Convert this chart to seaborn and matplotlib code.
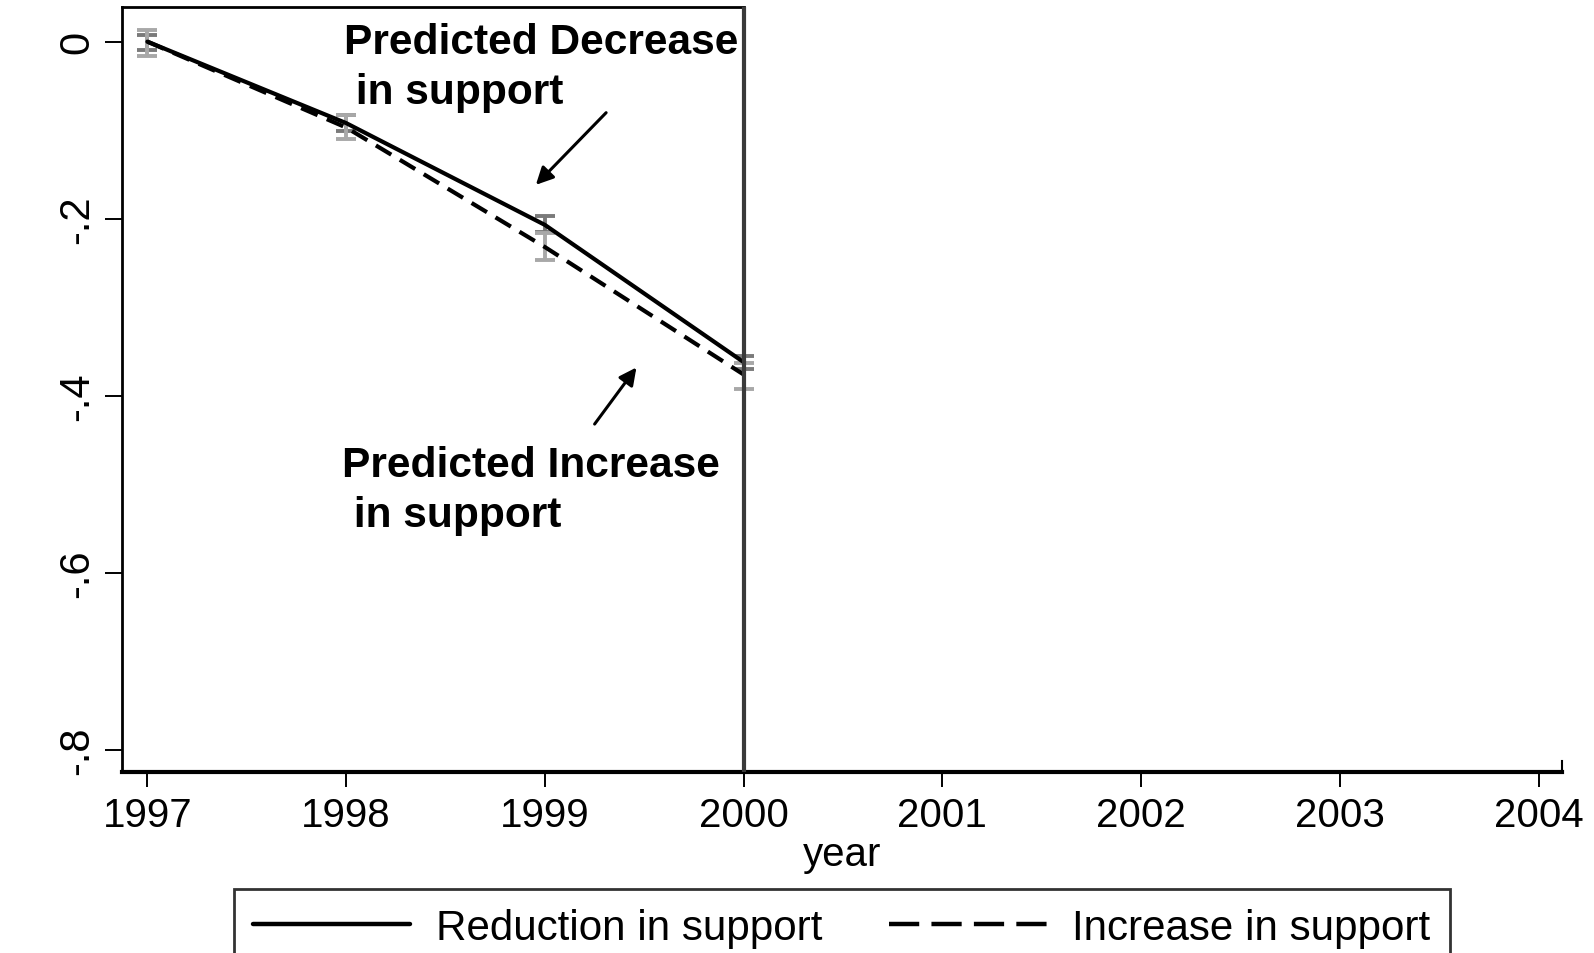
import pandas as pd
import matplotlib.pyplot as plt
import numpy as np
import seaborn as sns
from matplotlib.lines import Line2D

# values
years = [1997, 1998, 1999, 2000]
reduction = [0.0, -0.092, -0.207, -0.362]
increase = [0.0, -0.097, -0.232, -0.376]
reduction_lo = [-0.009, -0.101, -0.215, -0.370]
reduction_hi = [0.008, -0.083, -0.197, -0.355]
increase_lo = [-0.016, -0.110, -0.247, -0.392]
increase_hi = [0.013, -0.083, -0.216, -0.363]

xticks = [1997, 1998, 1999, 2000, 2001, 2002, 2003, 2004]
yticks = [0, -0.2, -0.4, -0.6, -0.8]
ytick_labels = ["0", "-.2", "-.4", "-.6", "-.8"]

df = pd.DataFrame({
    "year": years * 2,
    "value": reduction + increase,
    "group": ["Reduction in support"] * 4 + ["Increase in support"] * 4,
})

sns.set_style("white")
plt.rcParams['font.family'] = ['Liberation Sans', 'DejaVu Sans']
plt.rcParams['text.color'] = 'black'
plt.rcParams['axes.labelcolor'] = 'black'
plt.rcParams['xtick.color'] = 'black'
plt.rcParams['ytick.color'] = 'black'

fig = plt.figure(figsize=(15.94, 9.54), dpi=100)
ax = fig.add_axes([0.0765, 0.1897, 0.9037, 0.8018])

# grey confidence bars first
ax.errorbar(years, reduction, yerr=[np.array(reduction) - np.array(reduction_lo),
                                    np.array(reduction_hi) - np.array(reduction)],
            fmt='none', ecolor='#7a7a7a', elinewidth=2.8, capsize=7.5, capthick=2.8, zorder=2)
ax.errorbar(years, increase, yerr=[np.array(increase) - np.array(increase_lo),
                                   np.array(increase_hi) - np.array(increase)],
            fmt='none', ecolor='#a8a8a8', elinewidth=2.8, capsize=7.5, capthick=2.8, zorder=2)

sns.lineplot(data=df, x="year", y="value", style="group",
             dashes={"Reduction in support": "", "Increase in support": (4.3, 2.4)},
             color='black', linewidth=3, ax=ax, legend=False, zorder=3)

ax.axvline(2000, color='#3a3a3a', linewidth=3, zorder=4)

ax.set_xlim(1996.872, 2004.12)
ax.set_ylim(-0.825, 0.039)

ax.set_xticks(xticks)
ax.set_xticklabels([str(y) for y in xticks])
ax.set_yticks(yticks)
ax.set_yticklabels(ytick_labels, rotation=90, va='center')
ax.tick_params(axis='x', direction='out', length=11, width=1.4, labelsize=29, pad=6, bottom=True)
ax.tick_params(axis='y', direction='out', length=12, width=1.4, labelsize=30, pad=6, left=True)

ax.set_xlabel("year", fontsize=29, labelpad=1)
ax.set_ylabel("")

# frame: box only around left part, long bottom axis
ax.spines['left'].set_linewidth(2)
ax.spines['bottom'].set_linewidth(3)
ax.spines['top'].set_linewidth(2)
ax.spines['top'].set_bounds(1996.872, 2000)
ax.spines['right'].set_linewidth(1.5)
ax.spines['right'].set_bounds(-0.825, -0.812)
for s in ax.spines.values():
    s.set_color('black')

# annotations
ax.text(1997.987, -0.0288, "Predicted Decrease\n in support", fontsize=30.6,
        fontweight='bold', ha='left', va='center', linespacing=1.33)
ax.text(1997.977, -0.5064, "Predicted Increase\n in support", fontsize=30.6,
        fontweight='bold', ha='left', va='center', linespacing=1.33)
ax.annotate("", xy=(1998.945, -0.164), xytext=(1999.318, -0.078),
            arrowprops=dict(arrowstyle='-|>', color='black', lw=2.2, mutation_scale=26))
ax.annotate("", xy=(1999.469, -0.3655), xytext=(1999.242, -0.4345),
            arrowprops=dict(arrowstyle='-|>', color='black', lw=2.2, mutation_scale=26))

# legend
handles = [Line2D([], [], color='black', lw=3.2),
           Line2D([], [], color='black', lw=3.2, dashes=(6.8, 2.75))]
leg = fig.legend(handles, ["Reduction in support", "Increase in support"],
                 loc='upper center', bbox_to_anchor=(0.528, 1 - 890 / 954),
                 borderaxespad=0, ncol=2, fontsize=30.3, frameon=True, fancybox=False,
                 handlelength=3.75, handletextpad=0.6, columnspacing=1.6,
                 borderpad=0.45)
leg.get_frame().set_edgecolor('black')
leg.get_frame().set_linewidth(2)

fig.savefig("out.png", dpi=100)
